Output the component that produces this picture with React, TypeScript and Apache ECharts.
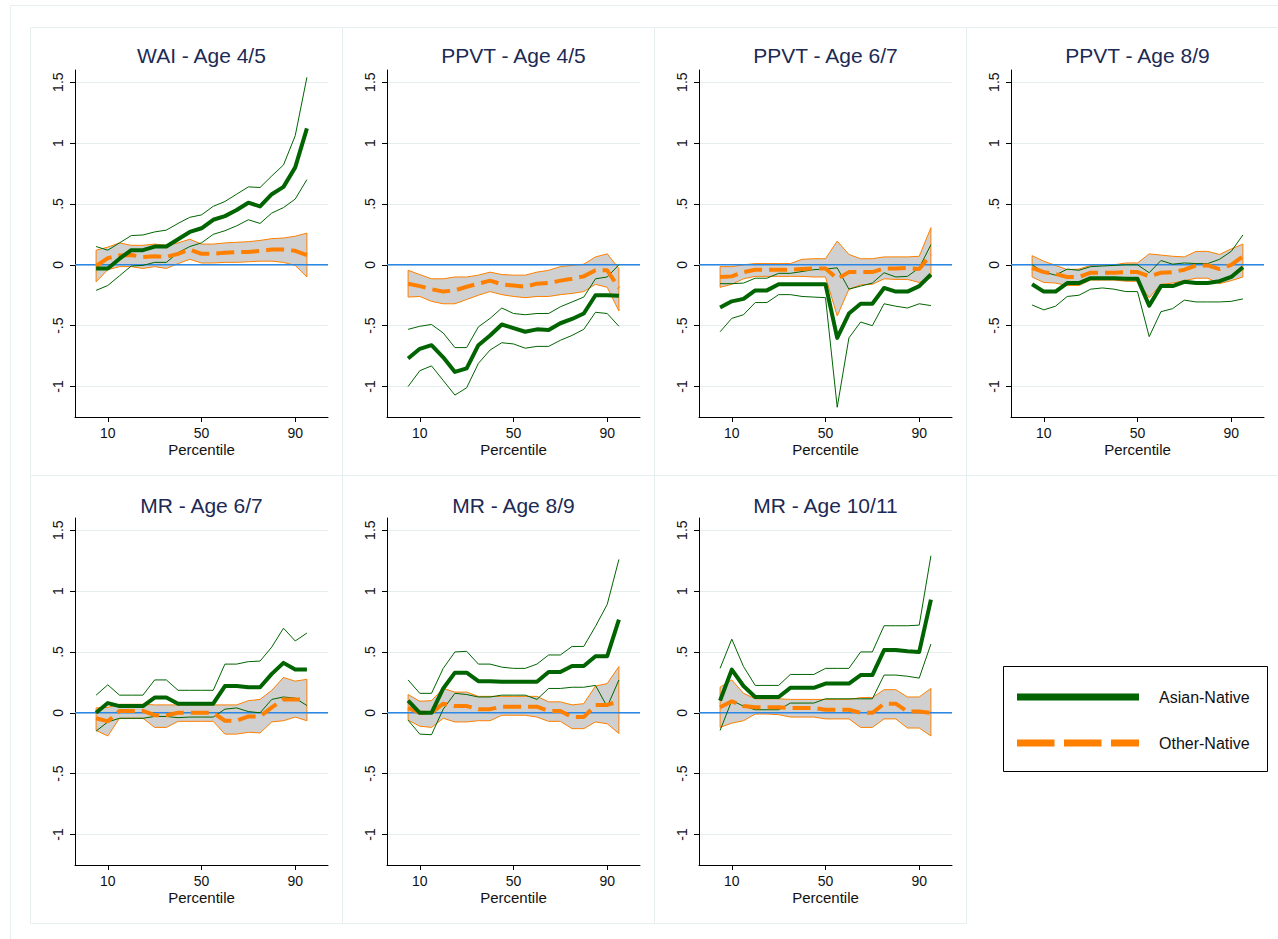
import React, { useEffect, useRef } from "react";
import * as echarts from "echarts";

// x positions (percentiles)
const percentiles = [5, 10, 15, 20, 25, 30, 35, 40, 45, 50, 55, 60, 65, 70, 75, 80, 85, 90, 95];

// WAI - Age 4/5
const waiAN = [-0.03, -0.03, 0.05, 0.12, 0.12, 0.15, 0.15, 0.21, 0.27, 0.3, 0.37, 0.4, 0.45, 0.51, 0.48, 0.58, 0.64, 0.8, 1.12];
const waiANHi = [0.15, 0.12, 0.18, 0.24, 0.245, 0.27, 0.285, 0.34, 0.39, 0.41, 0.48, 0.52, 0.58, 0.64, 0.635, 0.73, 0.82, 1.06, 1.54];
const waiANLo = [-0.21, -0.17, -0.09, -0.01, -0.005, 0.02, 0.02, 0.1, 0.15, 0.18, 0.25, 0.28, 0.32, 0.37, 0.34, 0.425, 0.47, 0.54, 0.7];
const waiON = [-0.01, 0.055, 0.077, 0.08, 0.065, 0.07, 0.065, 0.09, 0.125, 0.09, 0.09, 0.1, 0.105, 0.105, 0.115, 0.125, 0.125, 0.115, 0.08];
const waiONHi = [0.12, 0.145, 0.18, 0.16, 0.16, 0.17, 0.16, 0.18, 0.21, 0.17, 0.17, 0.18, 0.185, 0.19, 0.2, 0.215, 0.22, 0.235, 0.26];
const waiONLo = [-0.14, -0.04, -0.015, -0.015, -0.03, -0.015, -0.03, 0.01, 0.045, 0.015, 0.015, 0.02, 0.02, 0.025, 0.03, 0.03, 0.02, -0.005, -0.1];

// PPVT - Age 4/5
const p45AN = [-0.77, -0.69, -0.66, -0.76, -0.88, -0.85, -0.66, -0.58, -0.49, -0.52, -0.55, -0.53, -0.535, -0.48, -0.445, -0.4, -0.25, -0.25, -0.255];
const p45ANHi = [-0.53, -0.505, -0.49, -0.56, -0.68, -0.68, -0.51, -0.44, -0.355, -0.4, -0.41, -0.4, -0.4, -0.345, -0.305, -0.265, -0.115, -0.1, 0.0];
const p45ANLo = [-1.0, -0.87, -0.83, -0.95, -1.07, -1.01, -0.81, -0.7, -0.64, -0.65, -0.685, -0.67, -0.67, -0.62, -0.58, -0.53, -0.39, -0.4, -0.505];
const p45ON = [-0.155, -0.175, -0.2, -0.22, -0.21, -0.18, -0.155, -0.13, -0.16, -0.17, -0.18, -0.155, -0.15, -0.13, -0.115, -0.095, -0.045, -0.045, -0.19];
const p45ONHi = [-0.045, -0.08, -0.115, -0.115, -0.1, -0.1, -0.085, -0.06, -0.08, -0.085, -0.085, -0.06, -0.045, -0.015, -0.005, 0.005, 0.065, 0.09, -0.03];
const p45ONLo = [-0.265, -0.26, -0.3, -0.32, -0.32, -0.285, -0.25, -0.22, -0.245, -0.26, -0.27, -0.26, -0.26, -0.245, -0.235, -0.22, -0.16, -0.185, -0.38];

// PPVT - Age 6/7
const p67AN = [-0.35, -0.3, -0.28, -0.21, -0.21, -0.16, -0.16, -0.16, -0.16, -0.16, -0.6, -0.4, -0.32, -0.32, -0.19, -0.22, -0.22, -0.175, -0.08];
const p67ANHi = [-0.155, -0.155, -0.15, -0.11, -0.11, -0.07, -0.07, -0.055, -0.04, -0.035, -0.025, -0.2, -0.175, -0.15, -0.065, -0.1, -0.095, -0.025, 0.165];
const p67ANLo = [-0.55, -0.44, -0.41, -0.31, -0.31, -0.245, -0.245, -0.26, -0.265, -0.27, -1.17, -0.6, -0.47, -0.5, -0.32, -0.34, -0.355, -0.32, -0.335];
const p67ON = [-0.1, -0.095, -0.06, -0.04, -0.04, -0.04, -0.04, -0.035, -0.03, -0.03, -0.115, -0.06, -0.06, -0.06, -0.03, -0.03, -0.025, -0.035, 0.085];
const p67ONHi = [-0.015, -0.015, 0.0, 0.01, 0.01, 0.01, 0.01, 0.045, 0.05, 0.05, 0.195, 0.085, 0.05, 0.05, 0.065, 0.065, 0.065, 0.07, 0.305];
const p67ONLo = [-0.185, -0.16, -0.115, -0.095, -0.095, -0.095, -0.095, -0.095, -0.1, -0.1, -0.42, -0.2, -0.165, -0.16, -0.115, -0.12, -0.12, -0.145, -0.105];

// PPVT - Age 8/9
const p89AN = [-0.16, -0.22, -0.22, -0.15, -0.15, -0.11, -0.11, -0.11, -0.115, -0.115, -0.335, -0.175, -0.175, -0.14, -0.15, -0.15, -0.135, -0.1, -0.02];
const p89ANHi = [0.0, -0.06, -0.085, -0.035, -0.045, -0.015, -0.01, -0.005, 0.0, 0.0, -0.065, 0.035, 0.005, 0.015, 0.01, 0.01, 0.045, 0.11, 0.245];
const p89ANLo = [-0.33, -0.37, -0.34, -0.26, -0.25, -0.2, -0.19, -0.2, -0.22, -0.22, -0.59, -0.385, -0.36, -0.29, -0.305, -0.305, -0.305, -0.3, -0.28];
const p89ON = [-0.025, -0.06, -0.075, -0.1, -0.1, -0.065, -0.065, -0.065, -0.06, -0.06, -0.095, -0.065, -0.06, -0.04, -0.005, -0.005, -0.035, 0.0, 0.07];
const p89ONHi = [0.075, 0.03, -0.005, -0.04, -0.035, -0.005, 0.0, 0.0, 0.015, 0.015, 0.09, 0.08, 0.07, 0.065, 0.11, 0.11, 0.085, 0.13, 0.17];
const p89ONLo = [-0.1, -0.145, -0.15, -0.17, -0.17, -0.125, -0.125, -0.125, -0.135, -0.135, -0.27, -0.16, -0.15, -0.13, -0.11, -0.11, -0.155, -0.13, -0.1];

// MR - Age 6/7
const m67AN = [0.0, 0.08, 0.055, 0.055, 0.055, 0.125, 0.125, 0.075, 0.075, 0.075, 0.075, 0.22, 0.22, 0.21, 0.21, 0.32, 0.41, 0.355, 0.355];
const m67ANHi = [0.145, 0.23, 0.145, 0.145, 0.145, 0.27, 0.27, 0.185, 0.185, 0.185, 0.185, 0.4, 0.4, 0.42, 0.425, 0.54, 0.695, 0.59, 0.655];
const m67ANLo = [-0.15, -0.075, -0.045, -0.045, -0.045, -0.03, -0.03, -0.04, -0.035, -0.035, -0.035, 0.03, 0.04, 0.01, 0.0, 0.11, 0.13, 0.12, 0.06];
const m67ON = [-0.045, -0.07, 0.015, 0.015, 0.015, -0.02, -0.02, 0.0, 0.0, 0.0, 0.0, -0.065, -0.065, -0.03, -0.03, 0.045, 0.11, 0.11, 0.11];
const m67ONHi = [0.04, 0.045, 0.07, 0.07, 0.07, 0.065, 0.065, 0.065, 0.065, 0.065, 0.065, 0.065, 0.065, 0.1, 0.11, 0.185, 0.29, 0.26, 0.275];
const m67ONLo = [-0.145, -0.19, -0.045, -0.045, -0.045, -0.12, -0.12, -0.07, -0.07, -0.07, -0.07, -0.175, -0.175, -0.16, -0.165, -0.075, -0.065, -0.035, -0.065];

// MR - Age 8/9
const m89AN = [0.1, 0.0, 0.0, 0.2, 0.33, 0.33, 0.26, 0.26, 0.255, 0.255, 0.255, 0.255, 0.335, 0.335, 0.385, 0.385, 0.465, 0.465, 0.765];
const m89ANHi = [0.27, 0.16, 0.16, 0.365, 0.5, 0.505, 0.4, 0.4, 0.375, 0.365, 0.365, 0.4, 0.475, 0.475, 0.545, 0.545, 0.71, 0.89, 1.26];
const m89ANLo = [-0.06, -0.175, -0.18, 0.03, 0.16, 0.15, 0.13, 0.13, 0.145, 0.145, 0.145, 0.11, 0.2, 0.2, 0.21, 0.21, 0.225, 0.05, 0.27];
const m89ON = [0.04, 0.0, 0.0, 0.075, 0.055, 0.055, 0.03, 0.03, 0.05, 0.05, 0.05, 0.05, 0.015, 0.015, -0.035, -0.035, 0.065, 0.065, 0.095];
const m89ONHi = [0.15, 0.095, 0.1, 0.2, 0.17, 0.17, 0.135, 0.135, 0.135, 0.135, 0.135, 0.135, 0.09, 0.09, 0.065, 0.075, 0.22, 0.24, 0.38];
const m89ONLo = [-0.06, -0.11, -0.12, -0.045, -0.075, -0.075, -0.065, -0.065, -0.02, -0.02, -0.02, -0.035, -0.07, -0.07, -0.13, -0.13, -0.075, -0.09, -0.17];

// MR - Age 10/11
const m1011AN = [0.1, 0.355, 0.22, 0.13, 0.13, 0.13, 0.205, 0.205, 0.205, 0.24, 0.24, 0.24, 0.31, 0.31, 0.515, 0.515, 0.505, 0.5, 0.93];
const m1011ANHi = [0.365, 0.605, 0.38, 0.225, 0.225, 0.225, 0.315, 0.315, 0.315, 0.365, 0.365, 0.365, 0.5, 0.5, 0.715, 0.715, 0.715, 0.72, 1.29];
const m1011ANLo = [-0.145, 0.1, 0.055, 0.025, 0.025, 0.025, 0.08, 0.08, 0.08, 0.115, 0.115, 0.115, 0.115, 0.115, 0.31, 0.31, 0.3, 0.285, 0.565];
const m1011ON = [0.045, 0.095, 0.055, 0.045, 0.045, 0.045, 0.04, 0.04, 0.04, 0.025, 0.025, 0.025, 0.0, 0.0, 0.075, 0.075, 0.01, 0.01, 0.0];
const m1011ONHi = [0.21, 0.27, 0.16, 0.115, 0.115, 0.115, 0.11, 0.11, 0.11, 0.11, 0.11, 0.11, 0.125, 0.125, 0.19, 0.19, 0.13, 0.13, 0.2];
const m1011ONLo = [-0.12, -0.085, -0.065, -0.01, -0.01, -0.015, -0.035, -0.035, -0.035, -0.05, -0.05, -0.05, -0.12, -0.12, -0.05, -0.05, -0.125, -0.125, -0.19];

const xRange = [-4, 104];
const xTicks = [10, 50, 90];
const yTicks = [-1, -0.5, 0, 0.5, 1, 1.5];
const seriesNames = ["Asian-Native", "Other-Native"];

const panels = [
  { title: "WAI - Age 4/5", an: waiAN, anHi: waiANHi, anLo: waiANLo, on: waiON, onHi: waiONHi, onLo: waiONLo },
  { title: "PPVT - Age 4/5", an: p45AN, anHi: p45ANHi, anLo: p45ANLo, on: p45ON, onHi: p45ONHi, onLo: p45ONLo },
  { title: "PPVT - Age 6/7", an: p67AN, anHi: p67ANHi, anLo: p67ANLo, on: p67ON, onHi: p67ONHi, onLo: p67ONLo },
  { title: "PPVT - Age 8/9", an: p89AN, anHi: p89ANHi, anLo: p89ANLo, on: p89ON, onHi: p89ONHi, onLo: p89ONLo },
  { title: "MR - Age 6/7", an: m67AN, anHi: m67ANHi, anLo: m67ANLo, on: m67ON, onHi: m67ONHi, onLo: m67ONLo },
  { title: "MR - Age 8/9", an: m89AN, anHi: m89ANHi, anLo: m89ANLo, on: m89ON, onHi: m89ONHi, onLo: m89ONLo },
  { title: "MR - Age 10/11", an: m1011AN, anHi: m1011ANHi, anLo: m1011ANLo, on: m1011ON, onHi: m1011ONHi, onLo: m1011ONLo },
];

const FONT = "'Liberation Sans', Arial, sans-serif";
const GREEN = "#006400";
const ORANGE = "#ff7f00";
const BAND = "#d0d0d0";
const FRAME = "#e6eef0";
const GRIDLINE = "#e4eeee";
const ZERO = "#2b87e6";

const pts = (ys: number[]) => percentiles.map((x, i) => [x, ys[i]]);

const App = () => {
  const chartRef = useRef<HTMLDivElement>(null);

  useEffect(() => {
    const chart = echarts.init(chartRef.current, null, { renderer: "svg" });

    const grids: any[] = [];
    const xAxes: any[] = [];
    const yAxes: any[] = [];
    const series: any[] = [];
    const graphics: any[] = [
      { type: "rect", shape: { x: 10.5, y: 5.5, width: 1300, height: 1000 }, style: { fill: "none", stroke: FRAME, lineWidth: 1 }, silent: true },
    ];

    panels.forEach((p, k) => {
      const col = k % 4;
      const row = Math.floor(k / 4);
      const left = 75 + 312 * col;
      const top = row === 0 ? 70 : 518;

      graphics.push({
        type: "rect",
        shape: { x: 30.5 + 312 * col, y: row === 0 ? 27.5 : 475.5, width: 312, height: 448 },
        style: { fill: "none", stroke: FRAME, lineWidth: 1 },
        silent: true,
      });
      graphics.push({
        type: "text",
        x: left + 126.5,
        y: row === 0 ? 55 : 505,
        style: {
          text: p.title,
          fill: "#1c2a55",
          font: `21px ${FONT}`,
          align: "center",
          verticalAlign: "middle",
          textAlign: "center",
          textVerticalAlign: "middle",
        },
        silent: true,
      });

      grids.push({ left, top, width: 253, height: 347 });
      xAxes.push({
        type: "value",
        gridIndex: k,
        min: xRange[0],
        max: xRange[1],
        name: "Percentile",
        nameLocation: "middle",
        nameGap: 25,
        nameTextStyle: { color: "#111", fontSize: 15, fontFamily: FONT },
        axisLine: { onZero: false, lineStyle: { color: "#000", width: 1 } },
        axisTick: { customValues: xTicks, length: 5, lineStyle: { color: "#000" } },
        axisLabel: { customValues: xTicks, margin: 9, color: "#111", fontSize: 14, fontFamily: FONT },
        splitLine: { show: false },
      });
      yAxes.push({
        type: "value",
        gridIndex: k,
        min: -1.25,
        max: 1.6,
        axisLine: { show: true, onZero: false, lineStyle: { color: "#000", width: 1 } },
        axisTick: { show: true, customValues: yTicks, length: 5, lineStyle: { color: "#000" } },
        axisLabel: {
          customValues: yTicks,
          rotate: 90,
          margin: 10,
          color: "#111",
          fontSize: 14,
          fontFamily: FONT,
          formatter: (v: number) => String(v).replace("0.", "."),
        },
        splitLine: { show: true, lineStyle: { color: GRIDLINE, width: 1 } },
      });

      // blue reference line at 0, under the band
      series.push({
        type: "line",
        xAxisIndex: k,
        yAxisIndex: k,
        data: xRange.map((x) => [x, 0]),
        symbol: "none",
        silent: true,
        lineStyle: { color: ZERO, width: 1.6 },
      });
      // confidence band of Other-Native
      series.push({
        type: "custom",
        xAxisIndex: k,
        yAxisIndex: k,
        silent: true,
        data: percentiles.map((x, i) => [x, p.onLo[i], p.onHi[i]]),
        encode: { x: 0, y: [1, 2] },
        renderItem: (params: any, api: any) => {
          if (params.dataIndex !== 0) return null;
          const poly: number[][] = [];
          percentiles.forEach((x, i) => poly.push(api.coord([x, p.onLo[i]])));
          for (let i = percentiles.length - 1; i >= 0; i--) poly.push(api.coord([percentiles[i], p.onHi[i]]));
          poly.push(api.coord([percentiles[0], p.onLo[0]]));
          return {
            type: "polygon",
            shape: { points: poly },
            style: { fill: BAND, stroke: ORANGE, lineWidth: 1 },
          };
        },
      });
      // Asian-Native CI lines
      series.push({
        type: "line",
        name: seriesNames[0] + " upper",
        xAxisIndex: k,
        yAxisIndex: k,
        data: pts(p.anHi),
        symbol: "none",
        silent: true,
        lineStyle: { color: GREEN, width: 1 },
      });
      series.push({
        type: "line",
        name: seriesNames[0] + " lower",
        xAxisIndex: k,
        yAxisIndex: k,
        data: pts(p.anLo),
        symbol: "none",
        silent: true,
        lineStyle: { color: GREEN, width: 1 },
      });
      series.push({
        type: "line",
        name: seriesNames[1],
        xAxisIndex: k,
        yAxisIndex: k,
        data: pts(p.on),
        symbol: "none",
        silent: true,
        lineStyle: { color: ORANGE, width: 4, type: [18, 7], cap: "butt" },
      });
      series.push({
        type: "line",
        name: seriesNames[0],
        xAxisIndex: k,
        yAxisIndex: k,
        data: pts(p.an),
        symbol: "none",
        silent: true,
        lineStyle: { color: GREEN, width: 4, join: "round" },
      });
    });

    // legend box
    graphics.push(
      { type: "rect", shape: { x: 1003.5, y: 666.5, width: 264, height: 105 }, style: { fill: "#fff", stroke: "#000", lineWidth: 1 }, silent: true },
      { type: "line", shape: { x1: 1017, y1: 697, x2: 1139, y2: 697 }, style: { stroke: GREEN, lineWidth: 7 }, silent: true },
      { type: "line", shape: { x1: 1017, y1: 743, x2: 1139, y2: 743 }, style: { stroke: ORANGE, lineWidth: 7, lineDash: [37.5, 9.5] }, silent: true },
      {
        type: "text",
        x: 1159,
        y: 697,
        style: { text: seriesNames[0], fill: "#111", font: `16px ${FONT}`, verticalAlign: "middle", textVerticalAlign: "middle" },
        silent: true,
      },
      {
        type: "text",
        x: 1159,
        y: 743,
        style: { text: seriesNames[1], fill: "#111", font: `16px ${FONT}`, verticalAlign: "middle", textVerticalAlign: "middle" },
        silent: true,
      }
    );

    chart.setOption({
      animation: false,
      backgroundColor: "#fff",
      grid: grids,
      xAxis: xAxes,
      yAxis: yAxes,
      series,
      graphic: graphics,
    });

    return () => chart.dispose();
  }, []);

  return (
    <div
      ref={chartRef}
      style={{ position: "fixed", left: 0, top: 0, width: "1278px", height: "939px" }}
    />
  );
};

export default App;
